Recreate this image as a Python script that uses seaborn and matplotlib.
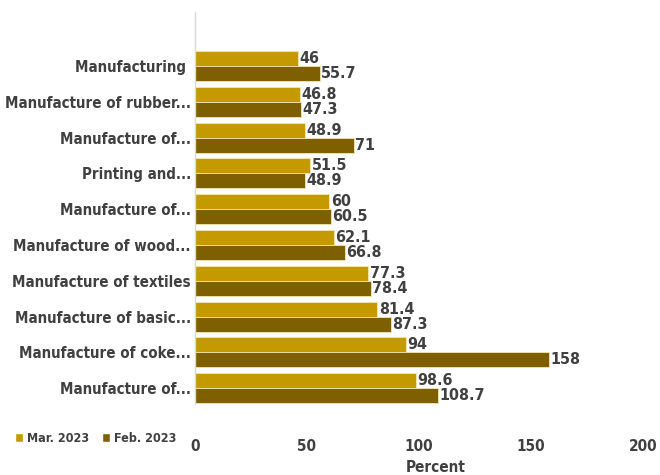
import matplotlib
matplotlib.use("Agg")
import matplotlib.pyplot as plt
import seaborn as sns
import pandas as pd
from matplotlib.patches import Patch

categories = [
    "Manufacturing ",
    "Manufacture of rubber...",
    "Manufacture of...",
    "Printing and...",
    "Manufacture of...",
    "Manufacture of wood...",
    "Manufacture of textiles",
    "Manufacture of basic...",
    "Manufacture of coke...",
    "Manufacture of...",
]
mar_2023 = [46, 46.8, 48.9, 51.5, 60, 62.1, 77.3, 81.4, 94, 98.6]
feb_2023 = [55.7, 47.3, 71, 48.9, 60.5, 66.8, 78.4, 87.3, 158, 108.7]
series = ["Mar. 2023", "Feb. 2023"]
colors = ["#C49A00", "#7F6000"]
xticks = [0, 50, 100, 150, 200]

rows = []
for i, c in enumerate(categories):
    rows.append({"cat": f"{i}", "label": c, "series": series[0], "value": mar_2023[i]})
    rows.append({"cat": f"{i}", "label": c, "series": series[1], "value": feb_2023[i]})
df = pd.DataFrame(rows)

sns.set_theme(style="white")
plt.rcParams["font.family"] = ["DejaVu Sans"]
plt.rcParams["font.stretch"] = "condensed"
plt.rcParams["font.weight"] = "bold"
text_color = "#404040"

fig = plt.figure(figsize=(6.6, 4.75), dpi=100)
ax = fig.add_axes([195 / 660, 1 - 404 / 475, (643 - 195) / 660, (404 - 12) / 475])

sns.barplot(data=df, y="cat", x="value", hue="series", orient="h",
            palette=colors, width=0.84, ax=ax, legend=False,
            edgecolor="#F3E6B0", linewidth=0.6, saturation=1)

for cont in ax.containers:
    ax.bar_label(cont, labels=[f"{v:g}" for v in cont.datavalues], padding=1,
                 fontsize=11.5, fontweight="bold", color=text_color)

ax.set_xlim(0, 200)
ax.set_ylim(9.44, -1.51)
ax.set_xticks(xticks)
ax.set_xticklabels([str(t) for t in xticks], fontsize=11, fontweight="bold", color=text_color)
ax.set_yticks(range(len(categories)))
ax.set_yticklabels(categories, fontsize=10.8, fontweight="bold", color=text_color)
ax.tick_params(axis="x", length=0, pad=25)
ax.tick_params(axis="y", length=0, pad=3)
ax.set_xlabel("")
ax.set_ylabel("")
for s in ["top", "right", "bottom"]:
    ax.spines[s].set_visible(False)
ax.spines["left"].set_color("#D9D9D9")
ax.spines["left"].set_linewidth(1)

fig.text(436 / 660, 1 - 467 / 475, "Percent", ha="center", va="center",
         fontsize=11, fontweight="bold", color=text_color)

handles = [Patch(facecolor=colors[0], label=series[0]),
           Patch(facecolor=colors[1], label=series[1])]
fig.legend(handles=handles, loc="center left", bbox_to_anchor=(0.005, 1 - 438 / 475),
           ncol=2, frameon=False, fontsize=9, handlelength=0.7, handleheight=0.7,
           handletextpad=0.3, columnspacing=1.0, labelcolor=text_color)

fig.savefig("out.png", dpi=100)
